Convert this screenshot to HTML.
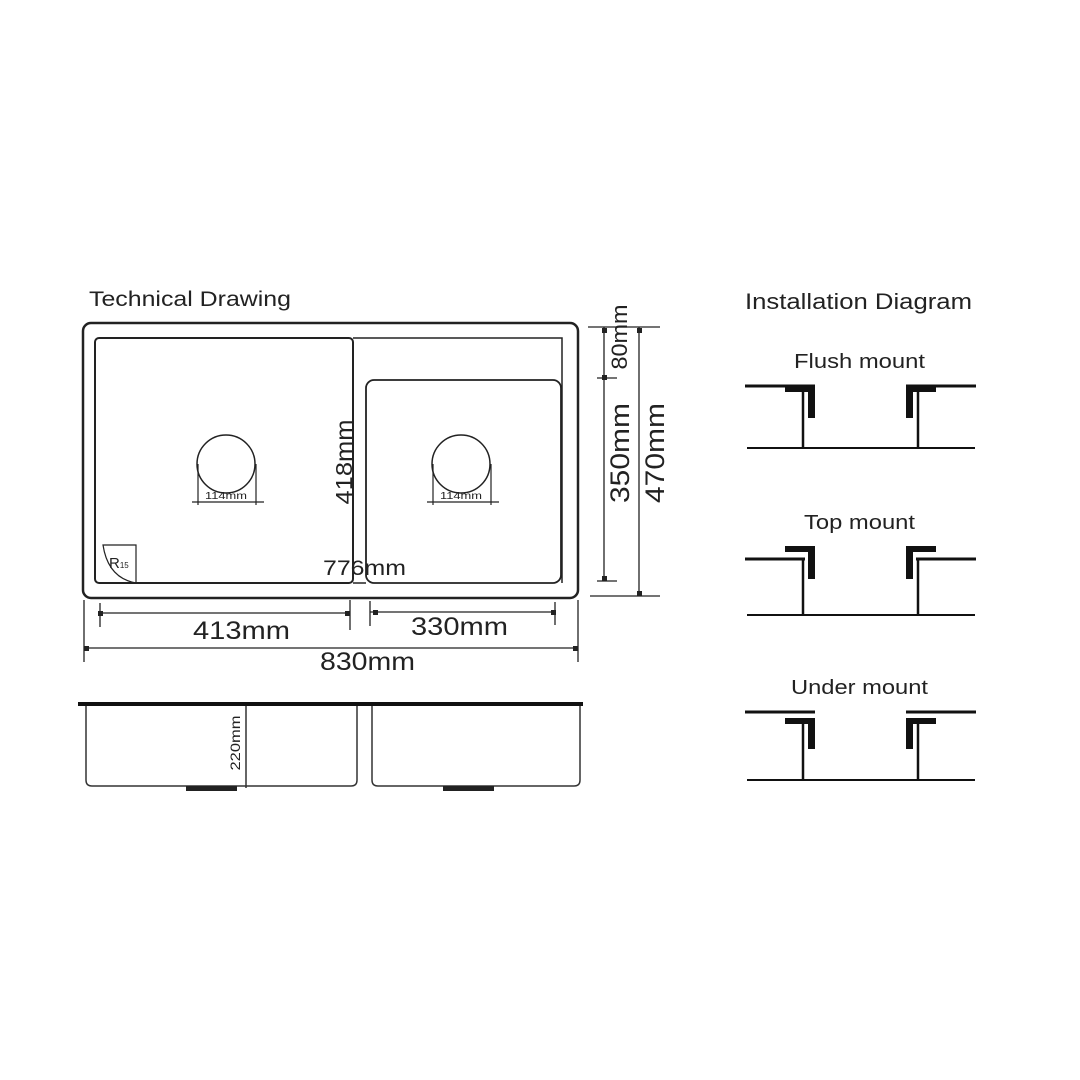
<!DOCTYPE html>
<html><head><meta charset="utf-8"><style>
html,body{margin:0;padding:0;background:#fff;}
svg{display:block;}
text{font-family:"Liberation Sans",Arial,sans-serif;fill:#222;}
</style></head><body>
<svg width="1080" height="1080" viewBox="0 0 1080 1080" xmlns="http://www.w3.org/2000/svg">
<rect width="1080" height="1080" fill="#fff"/>
<g fill="none" stroke="#222">
  <rect x="83" y="323" width="495" height="275" rx="8" stroke-width="2.5"/>
  <rect x="95" y="338" width="258" height="245" rx="4" stroke-width="2"/>
  <path d="M353 338 H562 V583" stroke-width="1.5"/>
  <path d="M353 583 H366" stroke-width="1.5"/>
  <rect x="366" y="380" width="195" height="203" rx="8" stroke-width="1.8"/>
  <circle cx="226" cy="464" r="29" stroke-width="1.5"/>
  <circle cx="461" cy="464" r="29" stroke-width="1.5"/>
  <path d="M198 464 V505 M256 464 V505 M192 502 H264" stroke-width="1.2"/>
  <path d="M433 464 V505 M491 464 V505 M427 502 H499" stroke-width="1.2"/>
  <path d="M103 545 H136 V583 Q108 578 103 545 Z" stroke-width="1.2"/>
  <path d="M100 603 V627 M350 600 V630 M100 613 H350" stroke-width="1.3"/>
  <path d="M370 601 V626 M555 602 V625 M370 612 H555" stroke-width="1.3"/>
  <path d="M84 600 V662 M578 600 V662 M84 648 H578" stroke-width="1.3"/>
  <path d="M588 327 H660 M597 378 H617 M597 581 H617 M590 596 H660" stroke-width="1.3"/>
  <path d="M604 327 V581 M639 327 V596" stroke-width="1.3"/>
</g>
<g fill="#222">
  <rect x="98" y="611" width="5" height="5"/><rect x="345" y="611" width="5" height="5"/>
  <rect x="373" y="610" width="5" height="5"/><rect x="551" y="610" width="5" height="5"/>
  <rect x="84" y="646" width="5" height="5"/><rect x="573" y="646" width="5" height="5"/>
  <rect x="602" y="328" width="5" height="5"/><rect x="602" y="375" width="5" height="5"/><rect x="602" y="576" width="5" height="5"/>
  <rect x="637" y="328" width="5" height="5"/><rect x="637" y="591" width="5" height="5"/>
</g>
<text x="89" y="306" font-size="21" textLength="202" lengthAdjust="spacingAndGlyphs">Technical Drawing</text>
<text x="205" y="499" font-size="10" textLength="42" lengthAdjust="spacingAndGlyphs">114mm</text>
<text x="440" y="499" font-size="10" textLength="42" lengthAdjust="spacingAndGlyphs">114mm</text>
<text x="109" y="568" font-size="15">R<tspan font-size="8">15</tspan></text>
<text x="323" y="575" font-size="21" textLength="83" lengthAdjust="spacingAndGlyphs">776mm</text>
<text transform="translate(352,462) rotate(-90)" text-anchor="middle" font-size="23" textLength="85" lengthAdjust="spacingAndGlyphs">418mm</text>
<text x="193" y="639" font-size="25" textLength="97" lengthAdjust="spacingAndGlyphs">413mm</text>
<text x="411" y="635" font-size="25" textLength="97" lengthAdjust="spacingAndGlyphs">330mm</text>
<text x="320" y="670" font-size="25" textLength="95" lengthAdjust="spacingAndGlyphs">830mm</text>
<text transform="translate(627,337) rotate(-90)" text-anchor="middle" font-size="22" textLength="65" lengthAdjust="spacingAndGlyphs">80mm</text>
<text transform="translate(629,453) rotate(-90)" text-anchor="middle" font-size="27" textLength="100" lengthAdjust="spacingAndGlyphs">350mm</text>
<text transform="translate(664,453) rotate(-90)" text-anchor="middle" font-size="27" textLength="100" lengthAdjust="spacingAndGlyphs">470mm</text>
<g fill="none" stroke="#333">
  <path d="M78 704 H583" stroke-width="4" stroke="#111"/>
  <path d="M86 706 V780 Q86 786 92 786 H351 Q357 786 357 780 V706" stroke-width="1.5"/>
  <path d="M372 706 V780 Q372 786 378 786 H574 Q580 786 580 780 V706" stroke-width="1.5"/>
  <path d="M246 706 V788" stroke-width="1.5"/>
</g>
<rect x="186" y="786" width="51" height="5" fill="#222"/>
<rect x="443" y="786" width="51" height="5" fill="#222"/>
<text transform="translate(240,743) rotate(-90)" text-anchor="middle" font-size="14" textLength="55" lengthAdjust="spacingAndGlyphs">220mm</text>
<text x="745" y="309" font-size="22" textLength="227" lengthAdjust="spacingAndGlyphs">Installation Diagram</text>
<text x="794" y="368" font-size="20" textLength="131" lengthAdjust="spacingAndGlyphs">Flush mount</text>
<text x="804" y="529" font-size="20" textLength="111" lengthAdjust="spacingAndGlyphs">Top mount</text>
<text x="791" y="694" font-size="20" textLength="137" lengthAdjust="spacingAndGlyphs">Under mount</text>
<g id="flush">
  <path d="M745 386 H815" stroke="#111" stroke-width="3"/>
  <rect x="785" y="386" width="30" height="6" fill="#111"/>
  <rect x="808" y="386" width="7" height="32" fill="#111"/>
  <path d="M803 392 V448" stroke="#111" stroke-width="2.5"/>
</g>
<use href="#flush" transform="translate(1721,0) scale(-1,1)"/>
<path d="M747 448 H975" stroke="#111" stroke-width="2"/>
<g id="top">
  <path d="M745 559 H805" stroke="#111" stroke-width="3"/>
  <rect x="785" y="546" width="30" height="6" fill="#111"/>
  <rect x="808" y="546" width="7" height="33" fill="#111"/>
  <path d="M803 559 V615" stroke="#111" stroke-width="2.5"/>
</g>
<use href="#top" transform="translate(1721,0) scale(-1,1)"/>
<path d="M747 615 H975" stroke="#111" stroke-width="2"/>
<g id="under">
  <path d="M745 712 H815" stroke="#111" stroke-width="3"/>
  <rect x="785" y="718" width="30" height="6" fill="#111"/>
  <rect x="808" y="718" width="7" height="31" fill="#111"/>
  <path d="M803 724 V780" stroke="#111" stroke-width="2.5"/>
</g>
<use href="#under" transform="translate(1721,0) scale(-1,1)"/>
<path d="M747 780 H975" stroke="#111" stroke-width="2"/>
</svg>
</body></html>
